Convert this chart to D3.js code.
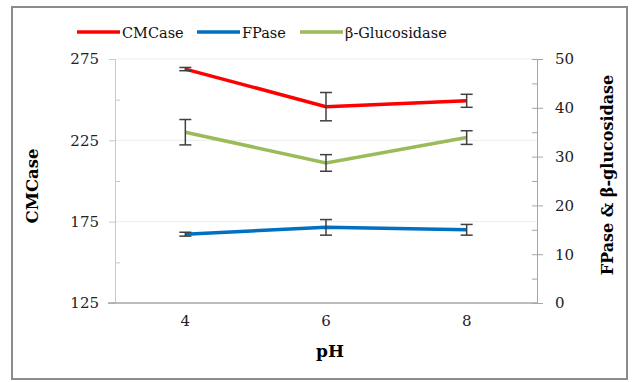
<!DOCTYPE html>
<html>
<head>
<meta charset="utf-8">
<script src="https://cdn.jsdelivr.net/npm/d3@7"></script>
<style>
  body { margin: 0; background: #fff; }
  svg { display: block; font-family: "DejaVu Serif", "Liberation Serif", serif; }
</style>
</head>
<body>
<svg id="chart" width="633" height="382"></svg>
<script>
var phLevels = ["4", "6", "8"];
var seriesNames = ["CMCase", "FPase", "β-Glucosidase"];
var seriesColors = ["#ff0000", "#0070c0", "#9bbb59"];
var cmcase = [268.8, 245.7, 249.3];
var cmcaseErr = [1.0, 8.7, 4.0];
var fpase = [14.1, 15.5, 15.0];
var fpaseErr = [0.4, 1.6, 1.1];
var glucosidase = [35.0, 28.7, 33.9];
var glucosidaseErr = [2.6, 1.7, 1.4];
var leftTicks = [125, 175, 225, 275];
var rightTicks = [0, 10, 20, 30, 40, 50];

var svg = d3.select("#chart"),
    margin = {top: 59, right: 96, bottom: 79, left: 115},
    width = 633 - margin.left - margin.right,
    height = 382 - margin.top - margin.bottom;

// outer frame
svg.append("rect")
    .attr("x", 12).attr("y", 7)
    .attr("width", 615).attr("height", 372)
    .attr("fill", "none")
    .attr("stroke", "#8c8c8c")
    .attr("stroke-width", 2);

var g = svg.append("g")
    .attr("transform", "translate(" + margin.left + "," + margin.top + ")");

var x = d3.scaleBand().domain(phLevels).range([0, width]);
var yLeft = d3.scaleLinear().domain([125, 275]).range([height, 0]);
var yRight = d3.scaleLinear().domain([0, 50]).range([height, 0]);

// gridlines
g.selectAll(".grid")
    .data(leftTicks.slice(1))
    .enter().append("line")
    .attr("x1", 0).attr("x2", width)
    .attr("y1", function(d) { return yLeft(d); })
    .attr("y2", function(d) { return yLeft(d); })
    .attr("stroke", "#ececec")
    .attr("stroke-width", 1);

// left axis
var leftAxis = g.append("g")
    .call(d3.axisLeft(yLeft).tickValues(leftTicks).tickSize(6).tickPadding(10));
leftAxis.attr("font-family", null);
leftAxis.select(".domain").attr("stroke", "#c8c8c8");
leftAxis.selectAll(".tick line").attr("stroke", "#c8c8c8");
leftAxis.selectAll("text").attr("font-size", 15).attr("fill", "#222");
g.append("g")
    .call(d3.axisRight(yLeft).tickValues([150, 200, 250]).tickSize(5).tickFormat(""))
    .call(function(a) { a.select(".domain").remove(); a.selectAll("line").attr("stroke", "#c8c8c8"); });

// right axis
var rightAxis = g.append("g")
    .attr("transform", "translate(" + width + ",0)")
    .call(d3.axisRight(yRight).tickValues(rightTicks).tickSize(6).tickPadding(12));
rightAxis.attr("font-family", null);
rightAxis.select(".domain").attr("stroke", "#a6a6a6");
rightAxis.selectAll(".tick line").attr("stroke", "#a6a6a6").attr("x1", -5);
rightAxis.selectAll("text").attr("font-size", 15).attr("fill", "#222");
g.append("g")
    .attr("transform", "translate(" + width + ",0)")
    .call(d3.axisLeft(yRight).tickValues([5, 15, 25, 35, 45]).tickSize(5).tickFormat(""))
    .call(function(a) { a.select(".domain").remove(); a.selectAll("line").attr("stroke", "#a6a6a6"); });

// bottom axis
var bottomAxis = g.append("g")
    .attr("transform", "translate(0," + height + ")")
    .call(d3.axisBottom(x).tickSize(0).tickPadding(12));
bottomAxis.attr("font-family", null);
bottomAxis.select(".domain").attr("stroke", "#a6a6a6").attr("stroke-width", 1.5)
    .attr("d", "M-7,0H" + width);
bottomAxis.selectAll("text").attr("font-size", 15).attr("fill", "#222");

// axis titles
svg.append("text")
    .attr("transform", "translate(38,186) rotate(-90)")
    .attr("text-anchor", "middle")
    .attr("font-size", 16.5).attr("font-weight", "bold")
    .text("CMCase");
svg.append("text")
    .attr("transform", "translate(613,175) rotate(-90)")
    .attr("text-anchor", "middle")
    .attr("font-size", 16).attr("font-weight", "bold")
    .text("FPase & β-glucosidase");
svg.append("text")
    .attr("x", 330).attr("y", 357)
    .attr("text-anchor", "middle")
    .attr("font-size", 17).attr("font-weight", "bold")
    .text("pH");

var cx = function(i) { return x(phLevels[i]) + x.bandwidth() / 2; };

var series = [
    {values: cmcase, err: cmcaseErr, scale: yLeft, color: seriesColors[0]},
    {values: fpase, err: fpaseErr, scale: yRight, color: seriesColors[1]},
    {values: glucosidase, err: glucosidaseErr, scale: yRight, color: seriesColors[2]}
];

series.forEach(function(s) {
    var line = d3.line()
        .x(function(d, i) { return cx(i); })
        .y(function(d) { return s.scale(d); });
    g.append("path")
        .datum(s.values)
        .attr("d", line)
        .attr("fill", "none")
        .attr("stroke", s.color)
        .attr("stroke-width", 3.5);

    var eb = g.selectAll(null)
        .data(s.values)
        .enter().append("g")
        .attr("stroke", "#404040")
        .attr("stroke-width", 1.5);
    eb.append("line")
        .attr("x1", function(d, i) { return cx(i); })
        .attr("x2", function(d, i) { return cx(i); })
        .attr("y1", function(d, i) { return s.scale(d - s.err[i]); })
        .attr("y2", function(d, i) { return s.scale(d + s.err[i]); });
    [-1, 1].forEach(function(sign) {
        eb.append("line")
            .attr("x1", function(d, i) { return cx(i) - 6; })
            .attr("x2", function(d, i) { return cx(i) + 6; })
            .attr("y1", function(d, i) { return s.scale(d + sign * s.err[i]); })
            .attr("y2", function(d, i) { return s.scale(d + sign * s.err[i]); });
    });
});

// legend
var legendX = [77, 197, 300];
var legend = svg.selectAll(".legend")
    .data(seriesNames)
    .enter().append("g")
    .attr("transform", function(d, i) { return "translate(" + legendX[i] + ",32)"; });
legend.append("line")
    .attr("x1", 0).attr("x2", 43)
    .attr("stroke", function(d, i) { return seriesColors[i]; })
    .attr("stroke-width", 3.5);
legend.append("text")
    .attr("x", 45).attr("y", 5.5)
    .attr("font-size", 14.5)
    .attr("fill", "#111")
    .text(function(d) { return d; });
</script>
</body>
</html>
